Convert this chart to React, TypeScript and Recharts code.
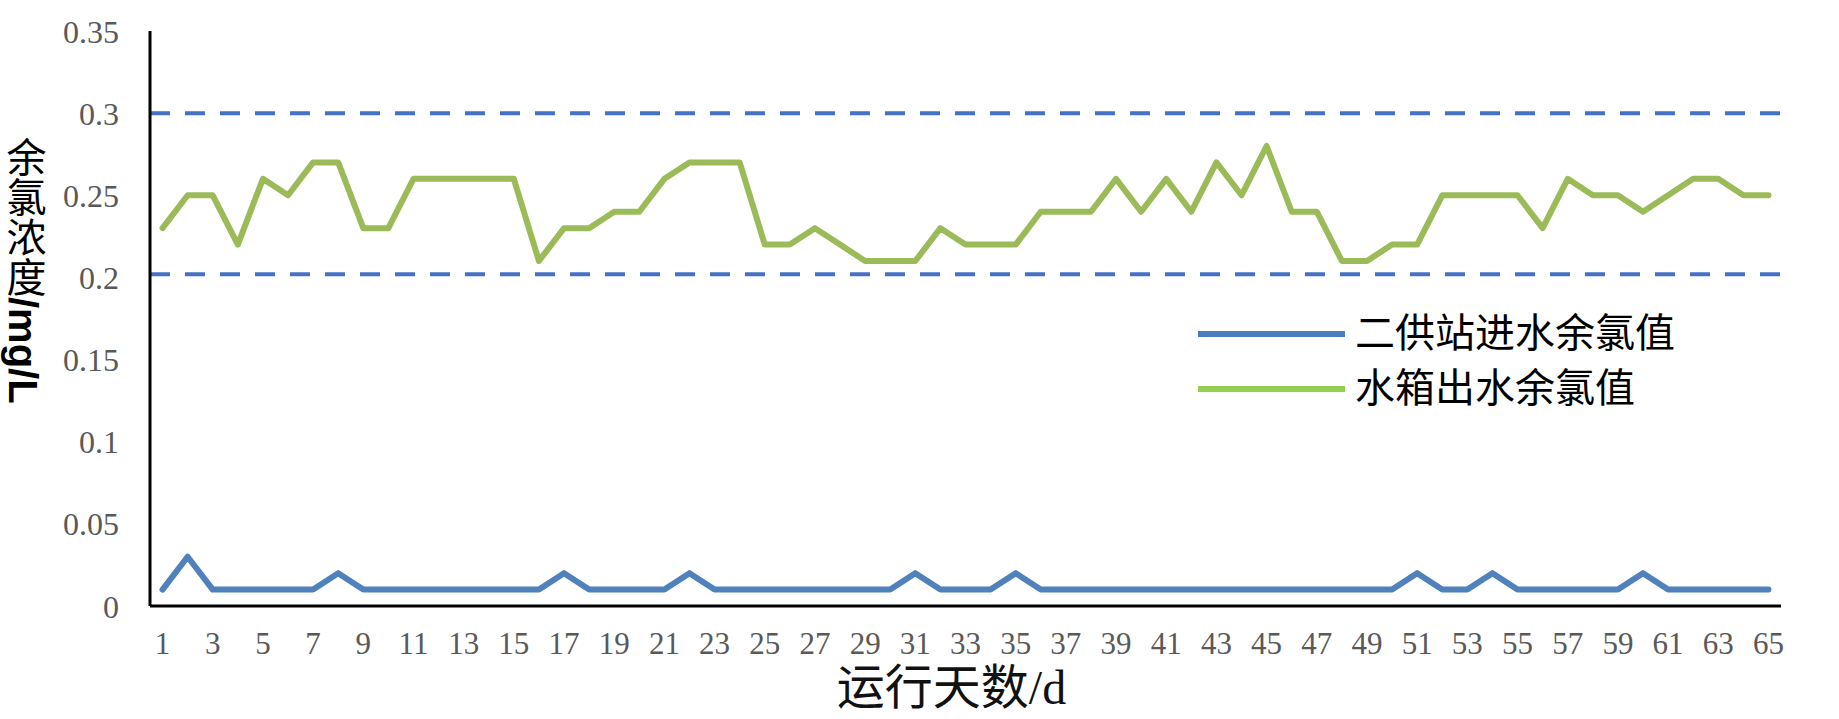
import React from 'react';
import { LineChart, Line, XAxis, YAxis, ReferenceLine, Legend } from 'recharts';

// 运行天数 (categories)
const days = [
  1, 2, 3, 4, 5, 6, 7, 8, 9, 10, 11, 12, 13, 14, 15, 16, 17, 18, 19, 20,
  21, 22, 23, 24, 25, 26, 27, 28, 29, 30, 31, 32, 33, 34, 35, 36, 37, 38, 39, 40,
  41, 42, 43, 44, 45, 46, 47, 48, 49, 50, 51, 52, 53, 54, 55, 56, 57, 58, 59, 60,
  61, 62, 63, 64, 65,
];

// 二供站进水余氯值 (mg/L)
const inletChlorine = [
  0.01, 0.03, 0.01, 0.01, 0.01, 0.01, 0.01, 0.02, 0.01, 0.01,
  0.01, 0.01, 0.01, 0.01, 0.01, 0.01, 0.02, 0.01, 0.01, 0.01,
  0.01, 0.02, 0.01, 0.01, 0.01, 0.01, 0.01, 0.01, 0.01, 0.01,
  0.02, 0.01, 0.01, 0.01, 0.02, 0.01, 0.01, 0.01, 0.01, 0.01,
  0.01, 0.01, 0.01, 0.01, 0.01, 0.01, 0.01, 0.01, 0.01, 0.01,
  0.02, 0.01, 0.01, 0.02, 0.01, 0.01, 0.01, 0.01, 0.01, 0.02,
  0.01, 0.01, 0.01, 0.01, 0.01,
];

// 水箱出水余氯值 (mg/L)
const tankChlorine = [
  0.23, 0.25, 0.25, 0.22, 0.26, 0.25, 0.27, 0.27, 0.23, 0.23,
  0.26, 0.26, 0.26, 0.26, 0.26, 0.21, 0.23, 0.23, 0.24, 0.24,
  0.26, 0.27, 0.27, 0.27, 0.22, 0.22, 0.23, 0.22, 0.21, 0.21,
  0.21, 0.23, 0.22, 0.22, 0.22, 0.24, 0.24, 0.24, 0.26, 0.24,
  0.26, 0.24, 0.27, 0.25, 0.28, 0.24, 0.24, 0.21, 0.21, 0.22,
  0.22, 0.25, 0.25, 0.25, 0.25, 0.23, 0.26, 0.25, 0.25, 0.24,
  0.25, 0.26, 0.26, 0.25, 0.25,
];

const yTicks = [0, 0.05, 0.1, 0.15, 0.2, 0.25, 0.3, 0.35];
const yTickLabels = ['0', '0.05', '0.1', '0.15', '0.2', '0.25', '0.3', '0.35'];

// control limits drawn as dashed lines (as placed in the figure)
const limits = [0.3, 0.202];

const seriesNames = ['二供站进水余氯值', '水箱出水余氯值'];
const legendColors = ['#4A7EBB', '#92D050'];

const data = days.map((d, i) => ({
  day: d,
  inlet: inletChlorine[i],
  tank: tankChlorine[i],
}));

const serif = '"Liberation Serif", "Times New Roman", "Noto Sans CJK SC", serif';

function YTick({ x, y, payload }: any) {
  const idx = yTicks.indexOf(payload.value);
  return (
    <text x={x} y={y} dy="0.36em" textAnchor="end" fontFamily={serif} fontSize={32} fill="#595959">
      {idx >= 0 ? yTickLabels[idx] : payload.value}
    </text>
  );
}

function XTick({ x, y, payload }: any) {
  return (
    <text x={x} y={y} dy="0.36em" textAnchor="middle" fontFamily={serif} fontSize={31} fill="#595959">
      {payload.value}
    </text>
  );
}

function YTitle() {
  return (
    <text x={23} y={137} style={{ writingMode: 'vertical-rl' }} fontSize={40} fill="#000">
      <tspan fontFamily={serif}>余氯浓度</tspan>
      <tspan fontFamily='"Liberation Sans", Arial, sans-serif' fontWeight="bold">/mg/L</tspan>
    </text>
  );
}

function XTitle({ viewBox }: any) {
  const cx = viewBox.x + viewBox.width / 2 - 14;
  return (
    <text x={cx} y={687} dy="0.36em" textAnchor="middle" fontFamily={serif} fontSize={48} fill="#111">
      运行天数/d
    </text>
  );
}

function LegendBox() {
  return (
    <div style={{ fontFamily: serif }}>
      {seriesNames.map((name, i) => (
        <div key={name} style={{ display: 'flex', alignItems: 'center', height: 55 }}>
          <div style={{ width: 147, height: 6, background: legendColors[i] }} />
          <span style={{ marginLeft: 10, fontSize: 40, color: '#000', lineHeight: '55px' }}>{name}</span>
        </div>
      ))}
    </div>
  );
}

export default function App() {
  return (
    <div style={{ position: 'absolute', left: 0, top: 0, width: 1839, height: 719, background: '#fff' }}>
      <LineChart width={1839} height={719} data={data} margin={{ top: 31, right: 58, bottom: 33, left: 0 }}>
        <XAxis
          dataKey="day"
          scale="band"
          interval={1}
          height={80}
          tickSize={0}
          tickMargin={37}
          tick={<XTick />}
          axisLine={{ stroke: '#000', strokeWidth: 3 }}
          label={<XTitle />}
        />
        <YAxis
          domain={[0, 0.35]}
          ticks={yTicks}
          width={150}
          tickSize={0}
          tickMargin={31}
          tick={<YTick />}
          axisLine={{ stroke: '#000', strokeWidth: 3 }}
          label={<YTitle />}
        />
        {limits.map((v) => (
          <ReferenceLine key={v} y={v} stroke="#4472C4" strokeWidth={4} strokeDasharray="20 15" />
        ))}
        <Line
          dataKey="tank"
          name={seriesNames[1]}
          stroke="#9BBB59"
          strokeWidth={6}
          strokeLinejoin="round"
          strokeLinecap="round"
          dot={false}
          isAnimationActive={false}
        />
        <Line
          dataKey="inlet"
          name={seriesNames[0]}
          stroke="#4F81BD"
          strokeWidth={6}
          strokeLinejoin="round"
          strokeLinecap="round"
          dot={false}
          isAnimationActive={false}
        />
        <Legend
          layout="horizontal"
          verticalAlign="middle"
          align="center"
          content={<LegendBox />}
          wrapperStyle={{ position: 'absolute', left: 1198, top: 306, width: 560 }}
        />
      </LineChart>
    </div>
  );
}
